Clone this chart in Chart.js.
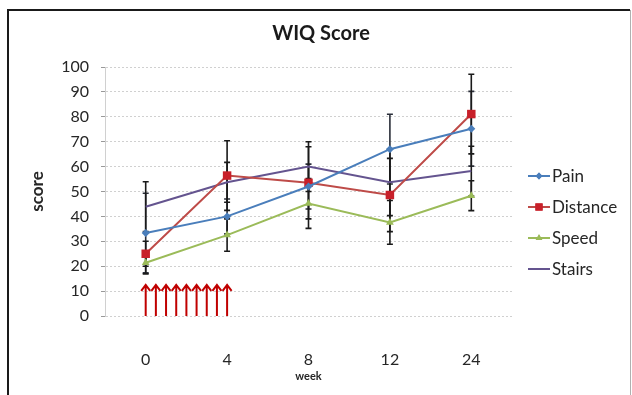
<!DOCTYPE html>
<html>
<head>
<meta charset="utf-8">
<script src="https://cdn.jsdelivr.net/npm/chart.js@4.4.1/dist/chart.umd.min.js"></script>
<style>
  html, body { margin: 0; padding: 0; background: #fff; }
  #wrap { width: 632px; height: 395px; }
</style>
</head>
<body>
<div id="wrap"><canvas id="wiqChart"></canvas></div>
<script>
const weeks = ["0", "4", "8", "12", "24"];
const pain = [33.3, 40, 52, 67, 75.2];
const distance = [25, 56.4, 53.5, 48.6, 81.1];
const speed = [21.4, 32.5, 45.2, 37.6, 48.3];
const stairs = [43.9, 53.7, 60, 53.7, 58.2];

// error bar half-lengths
const painErr = [16, 7, 9, 14, 15];
const distanceErr = [5, 14, 14.5, 14.7, 16];
const speedErr = [4.5, 6.5, 10, 8.8, 6];
const stairsErr = [10, 8, 10, 13.4, 10];

const yTicks = [0, 10, 20, 30, 40, 50, 60, 70, 80, 90, 100];

// red arrows between week 0 and week 4
const arrowCount = 9;
const arrowTop = 12.5;

const FONT = "Lato, 'Open Sans', sans-serif";
const TXT = "#262626";

const series = [
  { label: "Pain", data: pain, err: painErr, color: "#4A7EBB", point: "rectRot", r: 4, errColor: "#2b2f3a" },
  { label: "Distance", data: distance, err: distanceErr, color: "#BE4B48", pointColor: "#C8202A", point: "rect", r: 6, errColor: "#1a1a1a" },
  { label: "Speed", data: speed, err: speedErr, color: "#9BBB59", point: "triangle", r: 4.5, errColor: "#1a1a1a" },
  { label: "Stairs", data: stairs, err: stairsErr, color: "#64548F", point: false, r: 0, errColor: "#1a1a1a" },
];

const errorBars = {
  id: "errorBars",
  beforeDatasetsDraw(chart) {
    const { ctx, scales: { x, y } } = chart;
    ctx.save();
    ctx.lineWidth = 1.6;
    series.forEach((s) => {
      ctx.strokeStyle = s.errColor;
      s.data.forEach((v, i) => {
        const px = x.getPixelForValue(i);
        const top = y.getPixelForValue(v + s.err[i]);
        const bot = y.getPixelForValue(v - s.err[i]);
        ctx.beginPath();
        ctx.moveTo(px, top);
        ctx.lineTo(px, bot);
        ctx.moveTo(px - 3, top);
        ctx.lineTo(px + 3, top);
        ctx.moveTo(px - 3, bot);
        ctx.lineTo(px + 3, bot);
        ctx.stroke();
      });
    });
    ctx.restore();
  },
};

const arrows = {
  id: "arrows",
  afterDatasetsDraw(chart) {
    const { ctx, scales: { x, y } } = chart;
    const x0 = x.getPixelForValue(0);
    const x1 = x.getPixelForValue(1);
    const base = y.getPixelForValue(0);
    const tip = y.getPixelForValue(arrowTop);
    ctx.save();
    ctx.strokeStyle = "#C00000";
    ctx.lineWidth = 2;
    for (let i = 0; i < arrowCount; i++) {
      const px = x0 + (i * (x1 - x0)) / (arrowCount - 1);
      ctx.beginPath();
      ctx.moveTo(px, base);
      ctx.lineTo(px, tip);
      ctx.moveTo(px - 4.5, tip + 6);
      ctx.lineTo(px, tip);
      ctx.lineTo(px + 4.5, tip + 6);
      ctx.stroke();
    }
    ctx.restore();
  },
};

const legendAndFrame = {
  id: "legendAndFrame",
  afterDraw(chart) {
    const { ctx, chartArea } = chart;
    ctx.save();
    // legend
    const lx = chartArea.right + 16;
    let ly = chartArea.top + 109;
    ctx.font = "17px " + FONT;
    ctx.textBaseline = "middle";
    ctx.fillStyle = TXT;
    series.forEach((s) => {
      ctx.strokeStyle = s.color;
      ctx.lineWidth = 2;
      ctx.beginPath();
      ctx.moveTo(lx, ly);
      ctx.lineTo(lx + 22, ly);
      ctx.stroke();
      if (s.point) {
        ctx.fillStyle = s.pointColor || s.color;
        Chart.helpers.drawPoint(ctx, { pointStyle: s.point, radius: s.r * 0.85, rotation: 0, borderWidth: 0 }, lx + 11, ly);
        ctx.fill();
      }
      ctx.fillStyle = TXT;
      ctx.fillText(s.label, lx + 24, ly + 1);
      ly += 31;
    });
    // outer frame
    ctx.strokeStyle = "#1a1a1a";
    ctx.lineWidth = 2;
    ctx.beginPath();
    ctx.moveTo(8, 400);
    ctx.lineTo(8, 10);
    ctx.lineTo(630, 10);
    ctx.stroke();
    ctx.strokeStyle = "#b0b0b0";
    ctx.lineWidth = 1;
    ctx.beginPath();
    ctx.moveTo(630.5, 10);
    ctx.lineTo(630.5, 400);
    ctx.stroke();
    ctx.restore();
  },
};

new Chart(document.getElementById("wiqChart"), {
  type: "line",
  data: {
    labels: weeks,
    datasets: series.map((s) => ({
      label: s.label,
      data: s.data,
      borderColor: s.color,
      backgroundColor: s.pointColor || s.color,
      borderWidth: 2,
      pointStyle: s.point,
      pointRadius: s.r,
      pointBorderWidth: 0,
      pointHoverRadius: s.r,
      tension: 0,
    })),
  },
  options: {
    responsive: true,
    maintainAspectRatio: false,
    animation: false,
    layout: { padding: { left: 20, right: 10, top: 0, bottom: 0 } },
    plugins: {
      legend: { display: false },
      tooltip: { enabled: false },
      title: {
        display: true,
        text: "WIQ Score",
        color: "#1a1a1a",
        font: { family: FONT, size: 20, weight: "bold" },
        padding: { top: 22, bottom: 21 },
      },
    },
    scales: {
      x: {
        offset: true,
        grid: { display: false },
        border: { display: false },
        ticks: { color: TXT, font: { family: FONT, size: 16 }, padding: 26 },
        title: {
          display: true,
          text: "week",
          color: TXT,
          font: { family: FONT, size: 11, weight: "bold" },
          padding: { top: 0, bottom: 12 },
        },
        afterFit(scale) { scale.height = 79; },
      },
      y: {
        min: 0,
        max: 100,
        afterBuildTicks(scale) { scale.ticks = yTicks.map((v) => ({ value: v })); },
        grid: { color: "#d0d0d0", lineWidth: 1, tickLength: 4, tickColor: "#999" },
        border: { display: true, color: "#d0d0d0", dash: [2, 2] },
        ticks: { color: TXT, font: { family: FONT, size: 16 }, padding: 12 },
        title: {
          display: true,
          text: "score",
          color: TXT,
          font: { family: FONT, size: 17, weight: "bold" },
          padding: { top: 7, bottom: 0 },
        },
        afterFit(scale) { scale.width = 85; },
      },
      // empty right axis reserving the legend column
      legendSpace: {
        type: "linear",
        position: "right",
        display: true,
        grid: { display: false },
        border: { display: false },
        ticks: { display: false },
        afterFit(scale) { scale.width = 110; },
      },
    },
  },
  plugins: [errorBars, arrows, legendAndFrame],
});
</script>
</body>
</html>
